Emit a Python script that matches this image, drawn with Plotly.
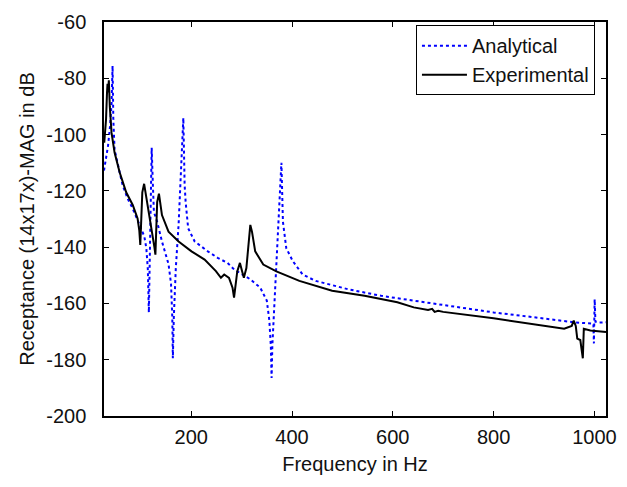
import plotly.graph_objects as go

# Analytical (blue dotted)
ana_freq = [27, 31, 35, 39, 42, 44, 45.5, 48, 53, 58, 64, 74, 84, 97, 107, 111, 114, 116,
            118, 120, 121.6, 124, 126, 132.5, 142, 155, 160, 162.5, 163.6, 165.5, 169.5, 175,
            181, 184.4, 187, 189, 194, 207, 233, 252.5, 272, 285, 317, 337, 350, 355, 358,
            359.5, 361, 366, 369, 372.6, 375.7, 379, 382, 388.7, 401.7, 421, 447, 512, 577,
            641.6, 700, 800, 875, 959, 998, 999, 1000.5, 1002, 1010, 1023]
ana_db = [-112.8, -109, -104, -97, -89, -75.6, -94.7, -105.3, -110, -113.4, -118, -122.8,
          -126.3, -132, -136.2, -140.4, -148, -163.2, -140, -118, -104.7, -118, -127.5, -131,
          -138, -146, -153, -165, -179.5, -165, -147.4, -132, -106.4, -94.1, -118, -124,
          -133.3, -138, -141.5, -143.8, -145.6, -147.9, -151.4, -154.4, -159, -166, -175,
          -186.5, -175, -157.9, -146.2, -134.5, -124, -110, -131, -140.4, -145, -149.7, -152,
          -155, -157.3, -159, -160.8, -163.2, -164.8, -166.7, -167.2, -174.2, -158.5, -166.5,
          -166.8, -166.7]

# Experimental (black solid)
exp_freq = [27.5, 29, 31, 33, 34, 35, 36.6, 38.5, 42, 48, 58, 71, 84, 93.6, 97, 99, 101, 103,
            106.6, 110, 113, 122.8, 127, 129, 131, 132.5, 136, 139, 142, 155, 175, 200.6,
            226.6, 249, 259, 265.5, 275, 282, 285, 291.4, 296.7, 301, 304.5, 309.5, 312.8,
            317.3, 320.6, 327, 343, 369, 414.6, 479.6, 544, 609, 641.6, 670, 678, 683, 690,
            700, 800, 875, 940, 955, 959, 963, 966, 972, 977, 979, 992, 1023]
exp_db = [-102.9, -100, -94.7, -85, -82, -85, -80.7, -90, -99.4, -106.4, -113.4, -120.5, -125,
          -129.8, -134, -139.2, -132, -120.5, -117.5, -121, -125, -135.6, -140, -142.7, -132,
          -124, -121, -125, -128.6, -134.5, -138, -141.5, -144.4, -148.5, -150.9, -149.7,
          -150.9, -154.4, -157.9, -148.6, -145.6, -148.6, -150.9, -147.4, -140.4, -132.1,
          -134.5, -141.5, -146.2, -148.6, -152, -155.5, -157.3, -159.6, -161.4, -162.3, -161.9,
          -163.0, -162.6, -163, -165.3, -167.2, -169, -168, -166.1, -168, -172.5, -173, -179.5,
          -169, -169.6, -170.2]

x_ticks = [200, 400, 600, 800, 1000]
x_labels = ["200", "400", "600", "800", "1000"]
y_ticks = [-200, -180, -160, -140, -120, -100, -80, -60]
y_labels = ["-200", "-180", "-160", "-140", "-120", "-100", "-80", "-60"]

FONT = "Liberation Sans, Arial, sans-serif"
FS = 20

fig = go.Figure()
fig.add_trace(go.Scatter(x=ana_freq, y=ana_db, mode="lines", name="Analytical",
                         line=dict(color="#0000FF", width=2, dash="dot")))
fig.add_trace(go.Scatter(x=exp_freq, y=exp_db, mode="lines", name="Experimental",
                         line=dict(color="black", width=2)))

axis_common = dict(showline=True, linecolor="black", linewidth=1.5, mirror="ticks",
                   ticks="inside", ticklen=5, tickwidth=1, tickcolor="black",
                   showgrid=False, zeroline=False,
                   tickfont=dict(family=FONT, size=FS, color="#111"))

fig.update_xaxes(range=[27, 1023], tickvals=x_ticks, ticktext=x_labels,
                 ticklabelstandoff=2,
                 title=dict(text="Frequency in Hz", font=dict(family=FONT, size=FS, color="#111"),
                            standoff=10),
                 **axis_common)
fig.update_yaxes(range=[-200, -60], tickvals=y_ticks, ticktext=y_labels,
                 ticklabelstandoff=12,
                 title=dict(text="Receptance (14x17x)-MAG in dB",
                            font=dict(family=FONT, size=FS, color="#111"), standoff=6),
                 **axis_common)

fig.update_layout(
    width=627, height=487,
    margin=dict(l=104, r=11, t=18, b=71),
    paper_bgcolor="white", plot_bgcolor="white",
    showlegend=True,
    legend=dict(x=0.978, y=0.992, xanchor="right", yanchor="top",
                bgcolor="white", bordercolor="black", borderwidth=1,
                font=dict(family=FONT, size=FS, color="#111"),
                itemwidth=45, tracegroupgap=4),
)

fig.write_html("out.html")
